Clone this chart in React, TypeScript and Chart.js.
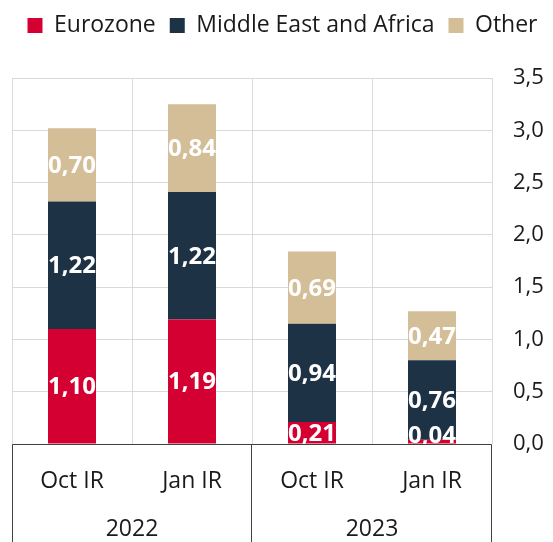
import React, { useEffect, useRef } from "react";
import { Chart, registerables } from "chart.js";

Chart.register(...registerables);

const categories = ["Oct IR", "Jan IR", "Oct IR", "Jan IR"];
const groups = ["2022", "2023"];
const groupSizes = [2, 2];
const eurozone = [1.1, 1.19, 0.21, 0.04];
const middleEastAfrica = [1.22, 1.22, 0.94, 0.76];
const other = [0.7, 0.84, 0.69, 0.47];
const seriesNames = ["Eurozone", "Middle East and Africa", "Other"];
const seriesColors = ["#D50032", "#1E3246", "#D4BE98"];
const yMin = 0;
const yMax = 3.5;
const yStep = 0.5;

const FONT = "'Open Sans', 'Noto Sans', sans-serif";

const fmt = (v: number, d: number) => v.toFixed(d).replace(".", ",");

const labelsPlugin = {
  id: "barLabels",
  afterDatasetsDraw(chart: any) {
    const ctx = chart.ctx;
    const base = chart.scales.y.getPixelForValue(0);
    ctx.save();
    ctx.font = `bold 24px ${FONT}`;
    ctx.fillStyle = "#FFFFFF";
    ctx.textAlign = "center";
    ctx.textBaseline = "middle";
    chart.data.datasets.forEach((ds: any, di: number) => {
      const meta = chart.getDatasetMeta(di);
      meta.data.forEach((bar: any, i: number) => {
        const v = ds.data[i];
        let y = (bar.y + bar.base) / 2;
        if (y > base - 9) y = base - 9;
        ctx.fillText(fmt(v, 2), bar.x, y + 1);
      });
    });
    ctx.restore();
  },
};

const tablePlugin = {
  id: "catTable",
  afterDraw(chart: any) {
    const ctx = chart.ctx;
    const x = chart.scales.x;
    const area = chart.chartArea;
    const bottom = chart.height;
    const top = Math.round(area.bottom) + 0.5;
    const left = Math.round(area.left) + 0.5;
    const right = Math.round(area.right) - 0.5;
    const step = x.getPixelForValue(1) - x.getPixelForValue(0);
    ctx.save();
    ctx.strokeStyle = "#404040";
    ctx.lineWidth = 1;
    ctx.beginPath();
    ctx.moveTo(left, top);
    ctx.lineTo(right, top);
    let idx = 0;
    const bounds: number[] = [left];
    groupSizes.forEach((n) => {
      idx += n;
      const bx = Math.round(x.getPixelForValue(idx - 1) + step / 2) - 0.5;
      bounds.push(bx);
    });
    bounds[bounds.length - 1] = right;
    bounds.forEach((bx) => {
      ctx.moveTo(bx, top);
      ctx.lineTo(bx, bottom);
    });
    ctx.stroke();

    ctx.fillStyle = "#1a1a1a";
    ctx.font = `23px ${FONT}`;
    ctx.textAlign = "center";
    ctx.textBaseline = "alphabetic";
    categories.forEach((c, i) => {
      ctx.fillText(c, x.getPixelForValue(i), 488);
    });
    let start = 0;
    groups.forEach((g, gi) => {
      const n = groupSizes[gi];
      const cx = (x.getPixelForValue(start) + x.getPixelForValue(start + n - 1)) / 2;
      ctx.fillText(g, cx, 536);
      start += n;
    });
    ctx.restore();
  },
};

export default function App() {
  const ref = useRef<HTMLCanvasElement | null>(null);
  useEffect(() => {
    document.body.style.margin = "0";
    const chart = new Chart(ref.current as HTMLCanvasElement, {
      type: "bar",
      data: {
        labels: categories,
        datasets: [eurozone, middleEastAfrica, other].map((d, i) => ({
          label: seriesNames[i],
          data: d,
          backgroundColor: seriesColors[i],
          borderWidth: 0,
          barPercentage: 0.4,
          categoryPercentage: 1,
        })),
      },
      options: {
        animation: false,
        responsive: false,
        devicePixelRatio: 1,
        layout: { padding: { left: 12, right: 0, top: 0, bottom: 0 } },
        plugins: {
          legend: {
            display: true,
            position: "top",
            labels: {
              boxWidth: 15,
              boxHeight: 15,
              padding: 14,
              color: "#1a1a1a",
              font: { family: FONT, size: 23 },
            },
          },
          title: {
            display: true,
            text: "",
            weight: 500,
            font: { size: 10, lineHeight: 1 },
            padding: { top: 0, bottom: 21 },
          },
          tooltip: { enabled: false },
        },
        scales: {
          x: {
            stacked: true,
            offset: true,
            grid: { display: true, color: "#D9D9D9", drawTicks: false, offset: true },
            border: { display: false },
            ticks: { display: false },
            afterFit(scale: any) {
              scale.height = 98;
            },
          },
          y: {
            stacked: true,
            position: "right",
            min: yMin,
            max: yMax,
            grid: { color: "#D9D9D9", drawTicks: false },
            border: { display: false },
            ticks: {
              stepSize: yStep,
              padding: 21,
              color: "#1a1a1a",
              font: { family: FONT, size: 22 },
              callback: (v: any) => fmt(Number(v), 1),
            },
            afterFit(scale: any) {
              scale.width = 61;
            },
          },
        },
      },
      plugins: [labelsPlugin, tablePlugin],
    });
    return () => chart.destroy();
  }, []);
  return (
    <div style={{ width: 553, height: 542 }}>
      <canvas ref={ref} width={553} height={542} />
    </div>
  );
}
